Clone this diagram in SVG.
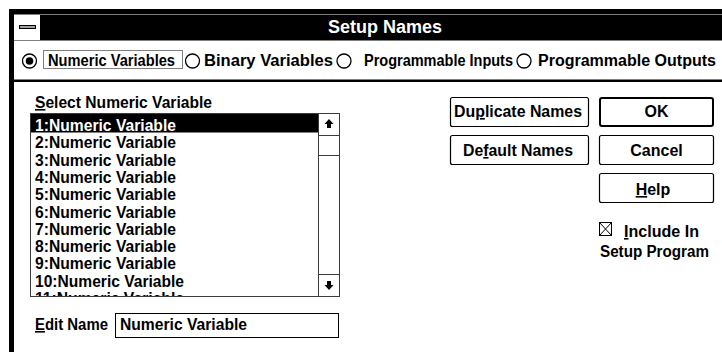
<svg xmlns="http://www.w3.org/2000/svg" width="722" height="352" viewBox="0 0 722 352">
  <style>
    text { font-family: "Liberation Sans", Arial, sans-serif; font-weight: bold; fill: #000; }
    .t15 { font-size: 16px; }
    .t16 { font-size: 16px; }
    .inv { fill: #fff; }
    .btn { fill: #fff; stroke: #000; stroke-width: 1.2; }
    .frame { fill: none; stroke: #3c3c3c; stroke-width: 1; }
    .radio { fill: #fff; stroke: #000; stroke-width: 1.3; }
    .u { text-decoration: underline; }
  </style>
  <defs>
    <clipPath id="listClip">
      <rect x="31" y="114" width="287" height="182"/>
    </clipPath>
  </defs>

  <rect width="722" height="352" fill="#fff"/>

  <!-- window frame and caption bar -->
  <g id="window-frame">
    <rect x="9" y="9" width="713" height="31" fill="#000"/>
    <rect x="9" y="9" width="5" height="343" fill="#000"/>
    <line x1="14" y1="14.5" x2="722" y2="14.5" stroke="#808080" stroke-width="1"/>
    <line x1="14" y1="40.5" x2="722" y2="40.5" stroke="#808080" stroke-width="1"/>
  </g>
  <g id="system-menu">
    <rect x="14" y="15" width="26" height="25" fill="#fff"/>
    <rect x="19.5" y="25.5" width="16" height="3" fill="#a0a0a0" stroke="#000" stroke-width="1"/>
  </g>
  <g id="caption">
    <text x="385" y="33" text-anchor="middle" class="inv" font-size="18" textLength="114" lengthAdjust="spacingAndGlyphs">Setup Names</text>
  </g>

  <!-- variable type selector -->
  <g id="radio-numeric">
    <circle cx="29.5" cy="61" r="7" class="radio"/>
    <circle cx="29.5" cy="61" r="3.8" fill="#000"/>
    <rect x="43.5" y="50.5" width="139" height="18" fill="none" stroke="#000" stroke-width="1" stroke-dasharray="1 1"/>
    <text x="48" y="66" class="t15" textLength="127" lengthAdjust="spacingAndGlyphs">Numeric Variables</text>
  </g>
  <g id="radio-binary">
    <circle cx="192.5" cy="61" r="7" class="radio"/>
    <text x="204" y="66" class="t15" textLength="129" lengthAdjust="spacingAndGlyphs">Binary Variables</text>
  </g>
  <g id="radio-inputs">
    <circle cx="344" cy="61" r="7" class="radio"/>
    <text x="364" y="66" class="t15" textLength="149" lengthAdjust="spacingAndGlyphs">Programmable Inputs</text>
  </g>
  <g id="radio-outputs">
    <circle cx="524" cy="61" r="7" class="radio"/>
    <text x="538" y="66" class="t15" textLength="178" lengthAdjust="spacingAndGlyphs">Programmable Outputs</text>
  </g>
  <g id="separator">
    <line x1="14" y1="79.5" x2="722" y2="79.5" stroke="#808080" stroke-width="1"/>
    <rect x="14" y="80" width="708" height="2" fill="#000"/>
  </g>

  <!-- variable list -->
  <g id="select-label">
    <text x="35" y="108" class="t15" textLength="177" lengthAdjust="spacingAndGlyphs"><tspan class="u">S</tspan>elect Numeric Variable</text>
  </g>
  <g id="variable-list">
    <rect x="30.5" y="113.5" width="309" height="183" fill="#fff" class="frame"/>
    <rect x="31" y="114" width="287" height="18.5" fill="#000"/>
    <g clip-path="url(#listClip)" class="t15">
      <text x="35" y="131" class="inv" textLength="141" lengthAdjust="spacingAndGlyphs">1:Numeric Variable</text>
      <text x="35" y="148.3" textLength="141" lengthAdjust="spacingAndGlyphs">2:Numeric Variable</text>
      <text x="35" y="165.6" textLength="141" lengthAdjust="spacingAndGlyphs">3:Numeric Variable</text>
      <text x="35" y="182.9" textLength="141" lengthAdjust="spacingAndGlyphs">4:Numeric Variable</text>
      <text x="35" y="200.2" textLength="141" lengthAdjust="spacingAndGlyphs">5:Numeric Variable</text>
      <text x="35" y="217.5" textLength="141" lengthAdjust="spacingAndGlyphs">6:Numeric Variable</text>
      <text x="35" y="234.8" textLength="141" lengthAdjust="spacingAndGlyphs">7:Numeric Variable</text>
      <text x="35" y="252.1" textLength="141" lengthAdjust="spacingAndGlyphs">8:Numeric Variable</text>
      <text x="35" y="269.4" textLength="141" lengthAdjust="spacingAndGlyphs">9:Numeric Variable</text>
      <text x="35" y="286.7" textLength="149" lengthAdjust="spacingAndGlyphs">10:Numeric Variable</text>
      <text x="35" y="304" textLength="149" lengthAdjust="spacingAndGlyphs">11:Numeric Variable</text>
    </g>
  </g>
  <g id="scrollbar">
    <line x1="318.5" y1="113.5" x2="318.5" y2="296.5" stroke="#3c3c3c"/>
    <line x1="318.5" y1="135.5" x2="339.5" y2="135.5" stroke="#3c3c3c"/>
    <line x1="318.5" y1="155.5" x2="339.5" y2="155.5" stroke="#3c3c3c"/>
    <line x1="318.5" y1="274.5" x2="339.5" y2="274.5" stroke="#3c3c3c"/>
    <path d="M329 119 L333.5 124 L331 124 L331 128 L327 128 L327 124 L324.5 124 Z" fill="#000"/>
    <path d="M329 290 L333.5 285 L331 285 L331 281 L327 281 L327 285 L324.5 285 Z" fill="#000"/>
  </g>

  <!-- name editor -->
  <g id="edit-name">
    <text x="35" y="330" class="t15" textLength="73" lengthAdjust="spacingAndGlyphs"><tspan class="u">E</tspan>dit Name</text>
    <rect x="115.5" y="313.5" width="223" height="24" fill="#fff" stroke="#000" stroke-width="1"/>
    <text x="120" y="330" class="t15" textLength="127" lengthAdjust="spacingAndGlyphs">Numeric Variable</text>
  </g>

  <!-- buttons -->
  <g id="btn-duplicate">
    <rect x="450.5" y="97.5" width="138" height="29" rx="2" class="btn"/>
    <text x="454" y="117" class="t16" textLength="128" lengthAdjust="spacingAndGlyphs">Du<tspan class="u">p</tspan>licate Names</text>
  </g>
  <g id="btn-default">
    <rect x="450.5" y="135.5" width="138" height="29" rx="2" class="btn"/>
    <text x="463" y="156" class="t16" textLength="110" lengthAdjust="spacingAndGlyphs">De<tspan class="u">f</tspan>ault Names</text>
  </g>
  <g id="btn-ok">
    <rect x="600" y="98" width="113" height="28" rx="2" fill="#fff" stroke="#000" stroke-width="2"/>
    <text x="656.5" y="117" class="t16" text-anchor="middle">OK</text>
  </g>
  <g id="btn-cancel">
    <rect x="599.5" y="135.5" width="114" height="29" rx="2" class="btn"/>
    <text x="656.5" y="156" class="t16" text-anchor="middle">Cancel</text>
  </g>
  <g id="btn-help">
    <rect x="599.5" y="173.5" width="114" height="29" rx="2" class="btn"/>
    <text x="653" y="195" class="t16" text-anchor="middle"><tspan class="u">H</tspan>elp</text>
  </g>

  <!-- setup program option -->
  <g id="include-checkbox">
    <rect x="599.5" y="222.5" width="12" height="13" fill="#fff" stroke="#000" stroke-width="1"/>
    <path d="M599.5 222.5 L611.5 235.5 M611.5 222.5 L599.5 235.5" stroke="#000" stroke-width="1"/>
    <text x="624" y="237" class="t16" textLength="75" lengthAdjust="spacingAndGlyphs"><tspan class="u">I</tspan>nclude In</text>
    <text x="600" y="257" class="t16" textLength="109" lengthAdjust="spacingAndGlyphs">Setup Program</text>
  </g>
</svg>
